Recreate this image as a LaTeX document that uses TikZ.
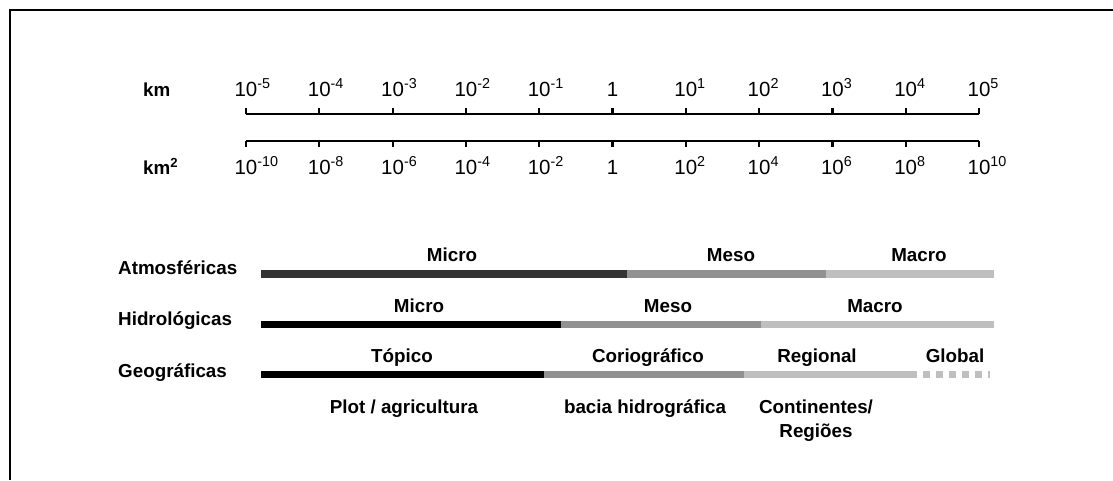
\documentclass[tikz,border=0pt]{standalone}
\usepackage{fontspec}
\setmainfont{Liberation Sans}
\newcommand{\pot}[1]{10\rlap{\textsuperscript{#1}}}
\definecolor{escuro}{HTML}{333333}
\definecolor{medio}{HTML}{919191}
\definecolor{claro}{HTML}{BFBFBF}

\begin{document}
\begin{tikzpicture}[x=1pt, y=-1pt,
    font=\fontsize{20.5}{24}\selectfont,
    negrito/.style={font=\fontsize{18.8}{24}\selectfont\bfseries, inner sep=0pt},
    valor/.style={inner sep=0pt, anchor=base},
    barra/.style={line width=7.5pt},
    eixo/.style={line width=2.2pt}]
  \useasboundingbox (0,0) rectangle (1113,480);
  \draw[line width=2pt] (10,480) -- (10,10) -- (1113,10);

  % escalas km e km2
  \draw[eixo] (246,114) -- (979,114);
  \draw[eixo] (246,141) -- (979,141);
  \node[negrito, anchor=base west] (km)  at (143,96)  {km};
  \node[negrito, anchor=base west] (km2) at (143,174) {km\textsuperscript{2}};
  \foreach \e [count=\i from 0] in {-5,-4,-3,-2,-1,0,1,2,3,4,5} {
    \draw[eixo] (246+73.3*\i,114) -- (246+73.3*\i,108);
    \draw[eixo] (246+73.3*\i,141) -- (246+73.3*\i,147);
    \pgfmathtruncatemacro{\d}{2*\e}
    \ifnum\e=0
      \node[valor] (lin\i) at (246+73.3*\i,96)  {1};
      \node[valor] (are\i) at (246+73.3*\i,174) {1};
    \else
      \node[valor] (lin\i) at (246+73.3*\i,96)  {\pot{\e}};
      \node[valor] (are\i) at (246+73.3*\i,174) {\pot{\d}};
    \fi
  }

  % Atmosfericas
  \node[negrito, anchor=base west] (atm) at (118,274) {Atmosféricas};
  \draw[barra, escuro] (261,274) -- (627,274);
  \draw[barra, medio]  (627,274) -- (826,274);
  \draw[barra, claro]  (826,274) -- (994,274);
  \node[negrito, anchor=base] (atmmicro) at (452,261.5) {Micro};
  \node[negrito, anchor=base] (atmmeso)  at (731,261.5) {Meso};
  \node[negrito, anchor=base] (atmmacro) at (919,261.5) {Macro};

  % Hidrologicas
  \node[negrito, anchor=base west] (hid) at (118,325) {Hidrológicas};
  \draw[barra, black] (261,324.5) -- (561,324.5);
  \draw[barra, medio] (561,324.5) -- (761,324.5);
  \draw[barra, claro] (761,324.5) -- (994,324.5);
  \node[negrito, anchor=base] (hidmicro) at (419,312) {Micro};
  \node[negrito, anchor=base] (hidmeso)  at (668,312) {Meso};
  \node[negrito, anchor=base] (hidmacro) at (875,312) {Macro};

  % Geograficas
  \node[negrito, anchor=base west] (geo) at (118,377) {Geográficas};
  \draw[barra, black] (261,374.5) -- (544,374.5);
  \draw[barra, medio] (544,374.5) -- (744,374.5);
  \draw[barra, claro] (744,374.5) -- (917,374.5);
  \draw[barra, claro, dash pattern=on 7pt off 6pt] (923,374.5) -- (990,374.5);
  \node[negrito, anchor=base] (topico)   at (402,362) {Tópico};
  \node[negrito, anchor=base] (corio)    at (648,362) {Coriográfico};
  \node[negrito, anchor=base] (regional) at (817,362) {Regional};
  \node[negrito, anchor=base] (global)   at (955,362) {Global};
  \node[negrito, anchor=base] (plot)  at (404,413) {Plot / agricultura};
  \node[negrito, anchor=base] (bacia) at (645,413) {bacia hidrográfica};
  \node[negrito, anchor=base, align=center] (cont) at (816,437) {Continentes/\\Regiões};
\end{tikzpicture}
\end{document}
